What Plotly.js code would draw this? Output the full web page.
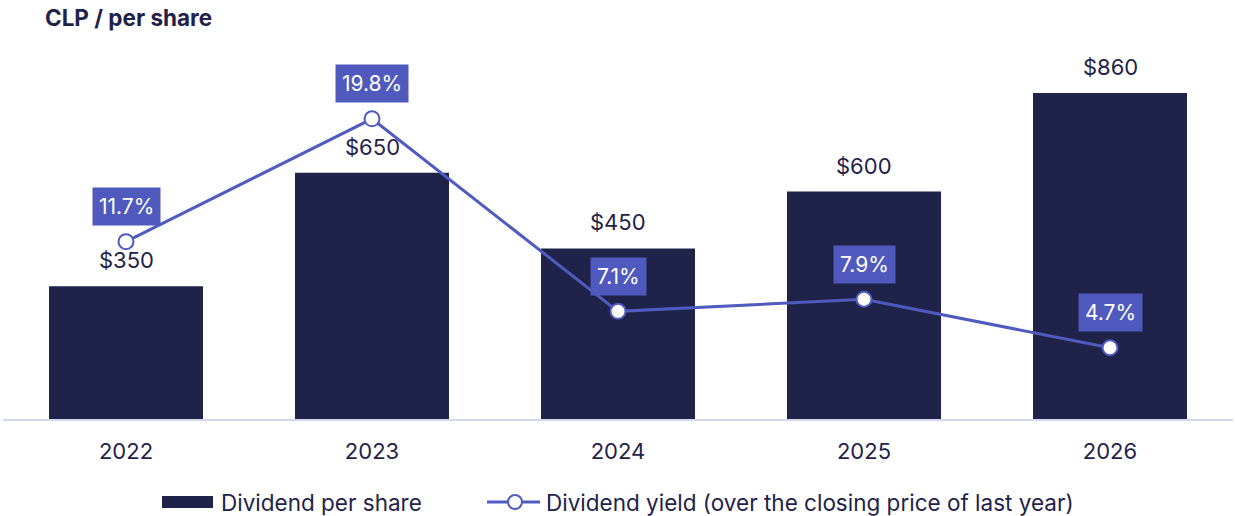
<!DOCTYPE html>
<html>
<head>
<meta charset="utf-8">
<script src="https://cdn.plot.ly/plotly-3.0.1.min.js"></script>
<style>html,body{margin:0;padding:0;background:#fff;}#chart{width:1235px;height:516px;}</style>
</head>
<body>
<div id="chart"></div>
<script>
const years = ['2022', '2023', '2024', '2025', '2026'];
const dividendPerShare = [350, 650, 450, 600, 860];
const dividendYield = [11.7, 19.8, 7.1, 7.9, 4.7];
const dividendLabels = ['$350', '$650', '$450', '$600', '$860'];
const yieldLabels = ['11.7%', '19.8%', '7.1%', '7.9%', '4.7%'];
const titleText = 'CLP / per share';
const legendNames = ['Dividend per share', 'Dividend yield (over the closing price of last year)'];

const DARK = '#1f2349';
const BLUE = '#4f5bbf';
const BOX = '#5059be';
const FONT = 'Inter, "Noto Sans", sans-serif';

const W = 1235, H = 516;
const M = {l: 3, r: 2, t: 40, b: 97};
const pw = W - M.l - M.r, ph = H - M.t - M.b;
const px = x => (x - M.l) / pw;
const py = y => (H - M.b - y) / ph;

const traces = [
  {
    type: 'bar', x: years, y: dividendPerShare, name: legendNames[0],
    marker: {color: DARK}, hoverinfo: 'skip', showlegend: false
  },
  {
    type: 'scatter', mode: 'lines+markers', x: years, y: dividendYield, yaxis: 'y2',
    name: legendNames[1], line: {color: BLUE, width: 3},
    marker: {size: 15, color: '#ffffff', line: {color: BLUE, width: 2}},
    hoverinfo: 'skip', showlegend: false
  }
];

const annotations = [];
years.forEach((yr, i) => {
  annotations.push({
    x: i, y: dividendPerShare[i], xref: 'x', yref: 'y', text: dividendLabels[i],
    showarrow: false, yanchor: 'middle', yshift: 26,
    font: {family: FONT, size: 22, color: DARK}
  });
  annotations.push({
    x: i, y: dividendYield[i], xref: 'x', yref: 'y2', text: yieldLabels[i],
    showarrow: false, yanchor: 'middle', yshift: 35,
    bgcolor: BOX, borderpad: 6,
    font: {family: FONT, size: 21, color: '#ffffff'}
  });
});
// legend texts
annotations.push({
  xref: 'paper', yref: 'paper', x: px(219), y: py(502), xanchor: 'left', yanchor: 'middle',
  text: legendNames[0], showarrow: false, font: {family: FONT, size: 22.5, color: DARK}
});
annotations.push({
  xref: 'paper', yref: 'paper', x: px(544), y: py(502), xanchor: 'left', yanchor: 'middle',
  text: legendNames[1], showarrow: false, font: {family: FONT, size: 22.5, color: DARK}
});

const shapes = [
  {type: 'rect', xref: 'paper', yref: 'paper', x0: px(162), x1: px(213), y0: py(496), y1: py(508),
   fillcolor: DARK, line: {width: 0}},
  {type: 'line', xref: 'paper', yref: 'paper', x0: px(487), x1: px(540), y0: py(502), y1: py(502),
   line: {color: BLUE, width: 3}},
  {type: 'circle', xref: 'paper', yref: 'paper', x0: px(508), x1: px(522), y0: py(495), y1: py(509),
   fillcolor: '#ffffff', line: {color: BLUE, width: 2}}
];

const layout = {
  width: W, height: H,
  margin: M,
  paper_bgcolor: '#ffffff', plot_bgcolor: '#ffffff',
  showlegend: false,
  bargap: 0.374,
  title: {
    text: '<b>' + titleText + '</b>', xref: 'container', yref: 'container',
    x: 45 / W, xanchor: 'left', y: 1 - 18 / H, yanchor: 'middle',
    font: {family: FONT, size: 22.5, color: DARK}
  },
  xaxis: {
    type: 'category', range: [-0.5, 4.5], showgrid: false, zeroline: false,
    showline: true, linecolor: '#d4d8ee', linewidth: 2,
    ticks: '', ticklabelstandoff: 12,
    tickfont: {family: FONT, size: 22, color: DARK}, fixedrange: true
  },
  yaxis: {range: [0, 1000], showticklabels: false, showgrid: false, zeroline: false, showline: false, ticks: '', fixedrange: true},
  yaxis2: {range: [0, 25], overlaying: 'y', side: 'right', showticklabels: false, showgrid: false, zeroline: false, showline: false, ticks: '', fixedrange: true},
  annotations: annotations,
  shapes: shapes
};

Plotly.newPlot('chart', traces, layout, {displayModeBar: false, staticPlot: true});
</script>
</body>
</html>
